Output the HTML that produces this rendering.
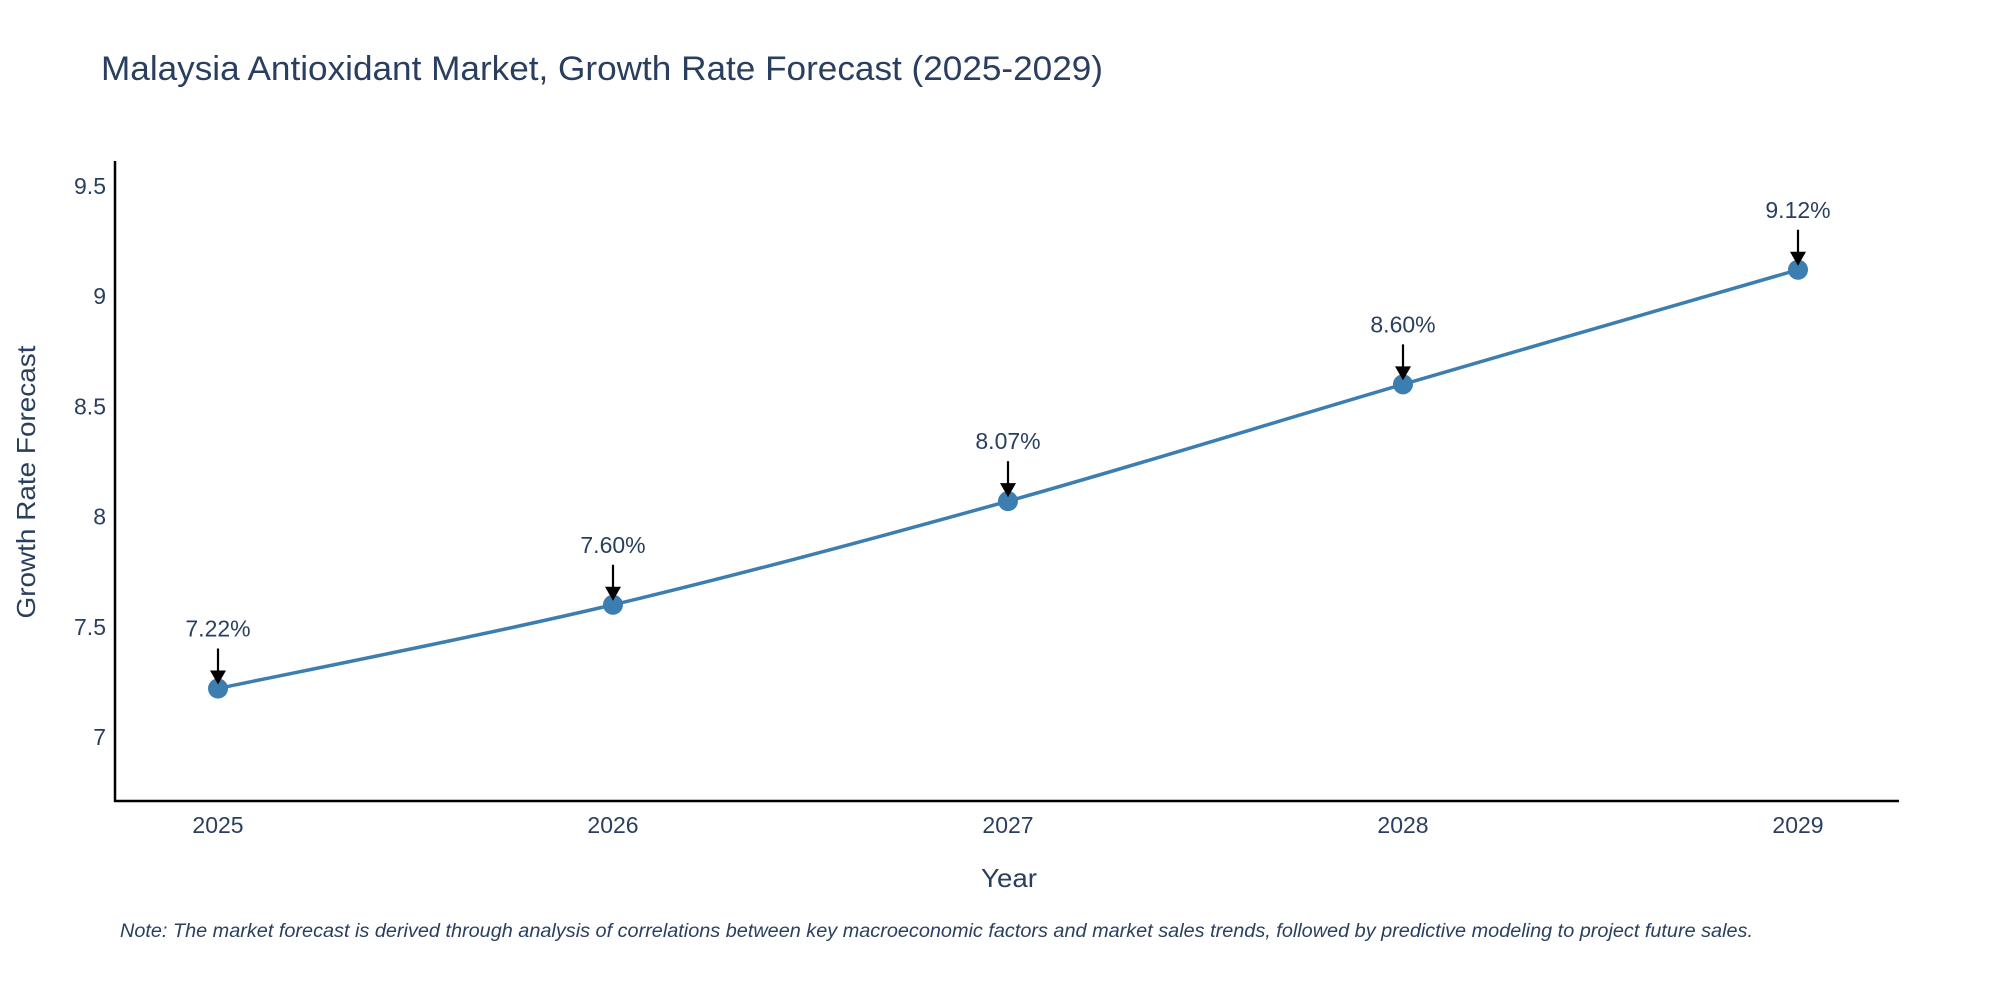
<!DOCTYPE html>
<html><head><meta charset="utf-8"><style>
html,body{margin:0;padding:0;background:#fff;}
svg{display:block;font-family:"Liberation Sans",sans-serif;}
</style></head><body>
<svg id="chart" width="2000" height="1000">
<text x="101" y="80" font-size="34" fill="#2a3f5f" textLength="1002" lengthAdjust="spacingAndGlyphs">Malaysia Antioxidant Market, Growth Rate Forecast (2025-2029)</text>
<g id="yticks"></g><g id="xticks"></g>
<path id="line" fill="none" stroke="#3d7eb0" stroke-width="3.5"></path>
<g id="marks"></g>
<line x1="115" y1="161" x2="115" y2="802" stroke="#000" stroke-width="2.5"/>
<line x1="114" y1="801" x2="1899" y2="801" stroke="#000" stroke-width="2.5"/>
<text x="1009" y="887" font-size="26" fill="#2a3f5f" text-anchor="middle" textLength="56" lengthAdjust="spacingAndGlyphs">Year</text>
<text transform="translate(35,482) rotate(-90)" font-size="26" fill="#2a3f5f" text-anchor="middle" textLength="273" lengthAdjust="spacingAndGlyphs">Growth Rate Forecast</text>
<text x="120" y="937" font-size="19" font-style="italic" fill="#2a3f5f" textLength="1633" lengthAdjust="spacingAndGlyphs">Note: The market forecast is derived through analysis of correlations between key macroeconomic factors and market sales trends, followed by predictive modeling to project future sales.</text>
</svg>
<script>
const years = [2025, 2026, 2027, 2028, 2029];
const values = [7.22, 7.60, 8.07, 8.60, 9.12];
const labels = ["7.22%", "7.60%", "8.07%", "8.60%", "9.12%"];
const yTicks = [7, 7.5, 8, 8.5, 9, 9.5];
const yTickLabels = ["7", "7.5", "8", "8.5", "9", "9.5"];

const NS = "http://www.w3.org/2000/svg";
const xS = v => 218 + (v - 2025) * (1798 - 218) / 4;
const yS = v => 737 - (v - 7) * 220.4;
function mk(tag, attrs, parent) {
  const e = document.createElementNS(NS, tag);
  for (const k in attrs) e.setAttribute(k, attrs[k]);
  parent.appendChild(e);
  return e;
}
const yt = document.getElementById('yticks');
yTicks.forEach((t, i) => {
  const e = mk('text', {x: 106, y: yS(t) + 8, 'font-size': 23, fill: '#2a3f5f', 'text-anchor': 'end'}, yt);
  
  
  e.textContent = yTickLabels[i];
});
const xt = document.getElementById('xticks');
years.forEach(y => {
  const e = mk('text', {x: xS(y), y: 833, 'font-size': 23, fill: '#2a3f5f', 'text-anchor': 'middle'}, xt);
  
  
  e.textContent = String(y);
});
const pts = years.map((y, i) => [xS(y), yS(values[i])]);
let d = `M${pts[0][0]},${pts[0][1]}`;
for (let i = 0; i < pts.length - 1; i++) {
  const p0 = pts[Math.max(0, i - 1)], p1 = pts[i], p2 = pts[i + 1], p3 = pts[Math.min(pts.length - 1, i + 2)];
  const c1 = [p1[0] + (p2[0] - p0[0]) / 6, p1[1] + (p2[1] - p0[1]) / 6];
  const c2 = [p2[0] - (p3[0] - p1[0]) / 6, p2[1] - (p3[1] - p1[1]) / 6];
  d += ` C${c1[0]},${c1[1]} ${c2[0]},${c2[1]} ${p2[0]},${p2[1]}`;
}
document.getElementById('line').setAttribute('d', d);
const g = document.getElementById('marks');
pts.forEach((p, i) => {
  const c = mk('circle', {cx: p[0], cy: p[1], r: 10, fill: '#3d7eb0'}, g);
  
  
  const l = mk('line', {x1: p[0], y1: p[1] - 40, x2: p[0], y2: p[1] - 14, stroke: '#000', 'stroke-width': 2.2}, g);
  
  
  const a = mk('polygon', {points: `${p[0]-8},${p[1]-18} ${p[0]+8},${p[1]-18} ${p[0]},${p[1]-4}`, fill: '#000'}, g);
  
  
  const t = mk('text', {x: p[0], y: p[1] - 52, 'font-size': 23, fill: '#2a3f5f', 'text-anchor': 'middle'}, g);
  
  
  t.textContent = labels[i];
});
</script>
</body></html>
